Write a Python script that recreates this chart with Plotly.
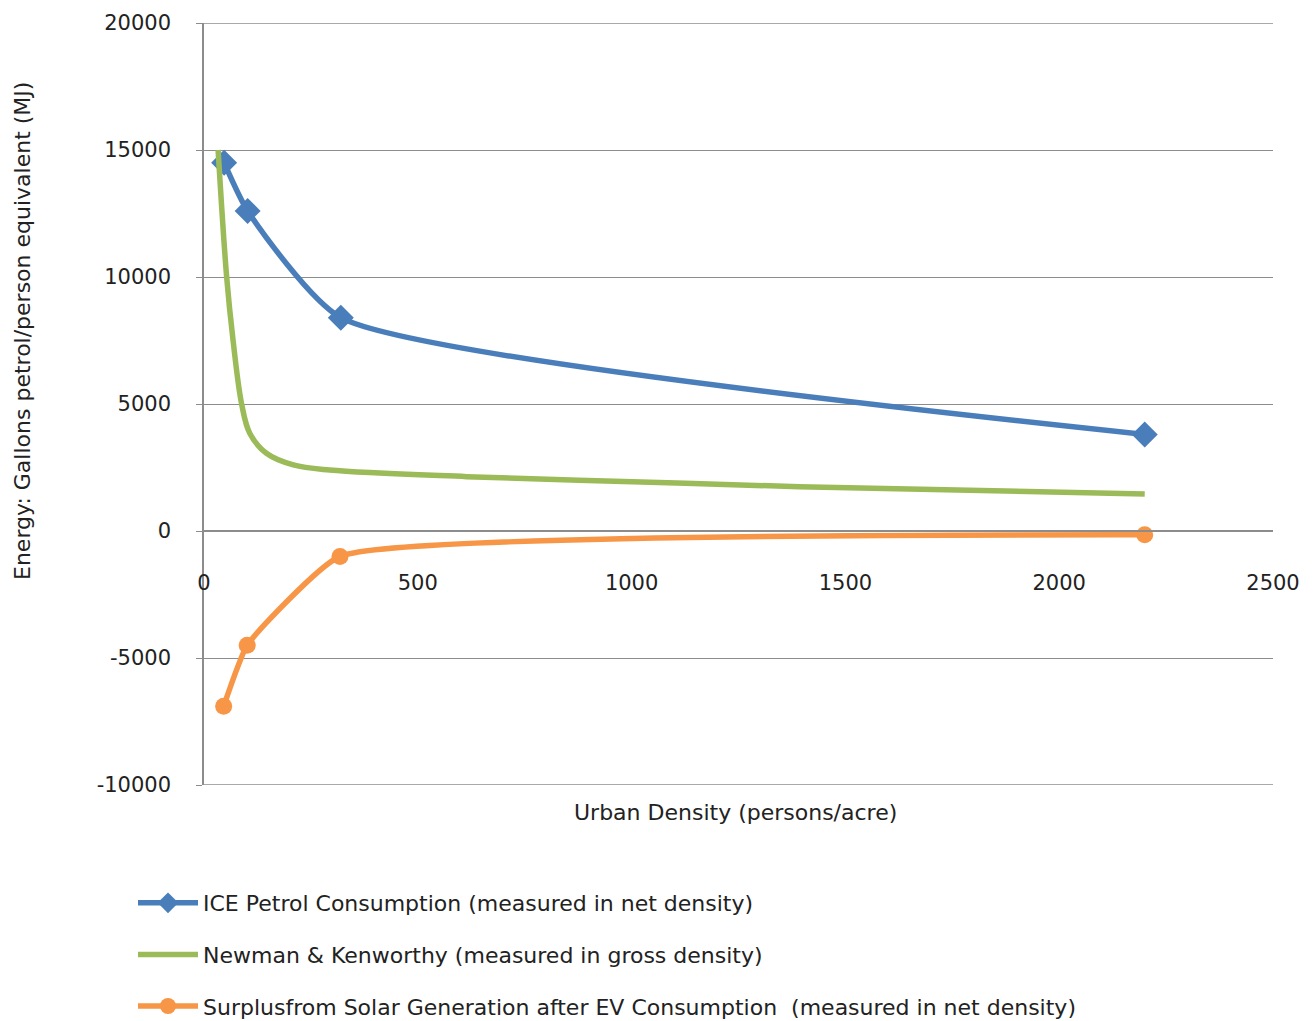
import plotly.graph_objects as go

# ---- data ----
ice_x = [47, 102, 320, 2200]
ice_y = [14500, 12600, 8400, 3800]

nk_x = [33, 53, 68, 88, 107, 146, 209, 294, 614, 1002, 1393, 2200]
nk_y = [15000, 10000, 7500, 5000, 3850, 3060, 2600, 2400, 2140, 1940, 1745, 1460]

solar_x = [46, 101, 318, 2200]
solar_y = [-6900, -4500, -1000, -150]

x_ticks = [0, 500, 1000, 1500, 2000, 2500]
y_ticks = [-10000, -5000, 0, 5000, 10000, 15000, 20000]

names = [
    "ICE Petrol Consumption (measured in net density)",
    "Newman & Kenworthy (measured in gross density)",
    "Surplusfrom Solar Generation after EV Consumption  (measured in net density)",
]
colors = ["#4A7EBB", "#9BBB59", "#F79646"]

FONT = "DejaVu Sans"
TXT = "#222222"
GRID = "#8C8C8C"

# plot area (page pixels) used to place the free titles
PL, PR, PT, PB = 204, 1273, 23, 785
PW, PH = PR - PL, PB - PT


def px_x(px):
    return (px - PL) / PW


def px_y(py):
    return (PB - py) / PH


fig = go.Figure()
fig.add_trace(go.Scatter(
    x=ice_x, y=ice_y, name=names[0], legendgroup="a",
    mode="lines+markers", line=dict(color=colors[0], width=5.5, shape="spline", smoothing=0.55),
    marker=dict(symbol="diamond", size=20, color=colors[0])))
fig.add_trace(go.Scatter(
    x=nk_x, y=nk_y, name=names[1], legendgroup="b",
    mode="lines", line=dict(color=colors[1], width=5.5, shape="spline", smoothing=1.0)))
fig.add_trace(go.Scatter(
    x=solar_x, y=solar_y, name=names[2], legendgroup="c",
    mode="lines+markers", line=dict(color=colors[2], width=5.5, shape="spline", smoothing=0.4),
    marker=dict(symbol="circle", size=17, color=colors[2])))

# the page body has an 8px margin, so the figure is drawn 8px smaller and offset
fig.update_layout(
    width=1305, height=1013,
    margin=dict(l=PL - 8, r=1313 - PR, t=PT - 8, b=1021 - PB, autoexpand=False),
    paper_bgcolor="white", plot_bgcolor="white",
    font=dict(family=FONT, size=22, color=TXT),
    showlegend=True,
    legend=dict(
        x=px_x(133), y=px_y(882), xanchor="left", yanchor="top",
        orientation="v", traceorder="grouped", tracegroupgap=20,
        font=dict(family=FONT, size=22, color=TXT),
        itemwidth=60, bgcolor="rgba(0,0,0,0)",
    ),
    xaxis=dict(
        range=[0, 2500], tickvals=x_ticks, ticktext=[str(v) for v in x_ticks],
        anchor="free", position=(0 - y_ticks[0]) / (y_ticks[-1] - y_ticks[0]),
        showgrid=False, zeroline=False, automargin=False,
        showline=True, linecolor=GRID, linewidth=1.5,
        ticks="", ticklabelstandoff=33,
        tickfont=dict(family=FONT, size=21, color=TXT),
    ),
    yaxis=dict(
        range=[y_ticks[0], y_ticks[-1]], tickvals=y_ticks,
        ticktext=[str(v) for v in y_ticks],
        showgrid=True, gridcolor=GRID, gridwidth=1.3,
        zeroline=False, automargin=False,
        showline=True, linecolor=GRID, linewidth=1.5,
        ticks="outside", ticklen=6, tickcolor=GRID,
        ticklabelstandoff=21,
        tickfont=dict(family=FONT, size=21, color=TXT),
    ),
    shapes=[
        dict(type="line", xref="paper", yref="y", x0=0, x1=1,
             y0=yv, y1=yv, line=dict(color=GRID, width=1.3), layer="below")
        for yv in (y_ticks[0], y_ticks[-1])
    ],
    annotations=[
        dict(text="Urban Density (persons/acre)", xref="paper", yref="paper",
             x=px_x(735), y=px_y(812), xanchor="center", yanchor="middle",
             showarrow=False, font=dict(family=FONT, size=22, color=TXT)),
        dict(text="Energy: Gallons petrol/person equivalent (MJ)", xref="paper", yref="paper",
             x=px_x(22), y=px_y(331), xanchor="center", yanchor="middle",
             textangle=-90, showarrow=False, font=dict(family=FONT, size=22, color=TXT)),
    ],
)

fig.write_html("out.html")
